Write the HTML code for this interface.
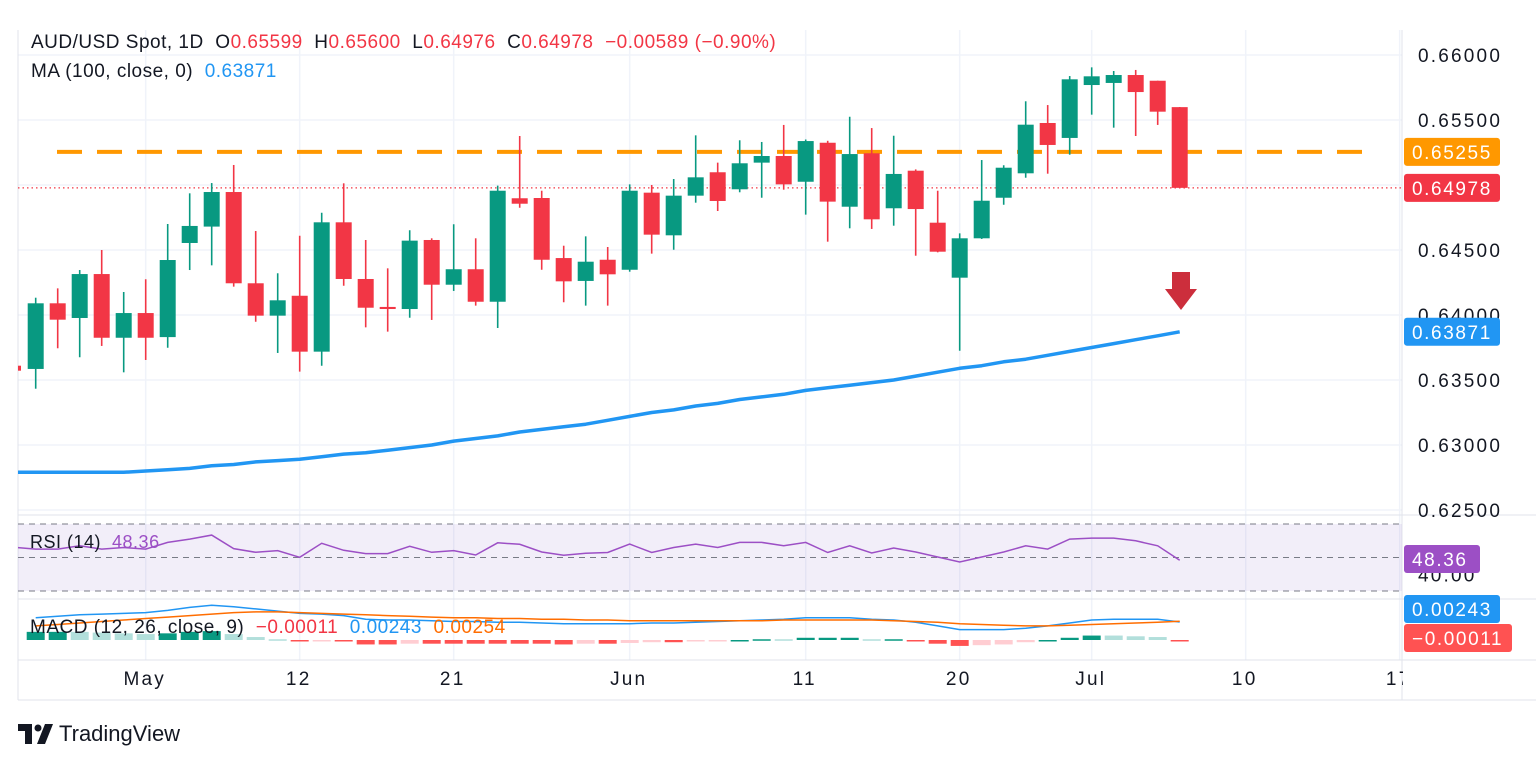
<!DOCTYPE html>
<html><head><meta charset="utf-8"><style>
html,body{margin:0;padding:0;background:#fff;}
body{width:1536px;height:763px;overflow:hidden;font-family:"Liberation Sans",sans-serif;}
svg text{font-family:"Liberation Sans",sans-serif;}
.lg{position:absolute;color:#131722;white-space:pre;letter-spacing:0.5px;}
</style></head><body>
<svg id="chart" width="1536" height="763" xmlns="http://www.w3.org/2000/svg">
<defs><clipPath id="plot"><rect x="18" y="30" width="1384" height="670"/></clipPath></defs>
<g id="grid"></g>
<g id="main" clip-path="url(#plot)"></g>
<g id="axes"></g>
</svg>
<script>
const opens=[.63585,.64090,.63977,.64315,.63825,.64015,.63830,.64554,.64680,.64946,.64244,.63995,.64148,.63718,.64713,.64277,.64062,.64046,.64577,.64233,.64352,.64102,.64898,.64900,.64438,.64262,.64425,.64348,.64941,.64613,.64918,.65098,.64967,.65172,.65223,.65025,.65325,.64833,.65244,.64821,.65110,.64710,.64287,.64590,.64902,.65090,.65477,.65362,.65769,.65785,.65846,.65802,.65599];
const highs=[.64133,.64205,.64346,.64500,.64177,.64275,.64700,.64936,.65015,.65154,.64646,.64321,.64610,.64787,.65013,.64577,.64359,.64652,.64590,.64698,.64590,.64995,.65377,.64956,.64533,.64605,.64523,.65005,.65000,.65046,.65382,.65172,.65344,.65331,.65462,.65350,.65340,.65525,.65438,.65379,.65120,.64956,.64628,.65192,.65152,.65644,.65615,.65838,.65905,.65877,.65885,.65802,.65600];
const lows=[.63433,.63744,.63675,.63762,.63559,.63654,.63748,.64346,.64382,.64218,.63948,.63708,.63564,.63610,.64225,.63905,.63872,.63979,.63962,.64185,.64072,.63900,.64825,.64348,.64098,.64072,.64072,.64333,.64472,.64502,.64864,.64800,.64944,.64902,.64964,.64772,.64564,.64667,.64662,.64687,.64456,.64482,.63725,.64585,.64848,.65056,.65087,.65233,.65541,.65441,.65377,.65462,.64976];
const closes=[.64090,.63964,.64315,.63825,.64015,.63825,.64423,.64685,.64946,.64244,.63995,.64113,.63718,.64713,.64277,.64056,.64046,.64572,.64233,.64352,.64102,.64956,.64856,.64425,.64259,.64410,.64313,.64956,.64618,.64918,.65059,.64877,.65167,.65223,.65005,.65338,.64872,.65238,.64736,.65085,.64815,.64487,.64590,.64879,.65133,.65464,.65308,.65813,.65836,.65846,.65715,.65564,.64978];
const ma100=[.6279,.6279,.6279,.6279,.6279,.6279,.6280,.6281,.6282,.6284,.6285,.6287,.6288,.6289,.6291,.6293,.6294,.6296,.6298,.6300,.6303,.6305,.6307,.6310,.6312,.6314,.6316,.6319,.6322,.6325,.6327,.6330,.6332,.6335,.6337,.6339,.6342,.6344,.6346,.6348,.6350,.6353,.6356,.6359,.6361,.6364,.6366,.6369,.6372,.6375,.6378,.6381,.6384,.63871];
const rsi=[55,55,57,55,56,55,59,61,63.4,55.3,53.1,54.1,50.1,58.5,54.3,52.3,52.3,56.7,53.1,54.1,51.5,58.8,57.9,53.3,51.3,52.5,53,58,53,56,58,56,59,59,57,59,53,57,52.7,55.7,53.3,50.3,47.3,50.3,53.3,57,55,61,61.6,61.6,60,57,48.36];
const macd=[.0030,.0032,.0034,.0035,.0036,.0037,.0040,.0044,.0047,.0045,.0042,.0039,.0036,.0035,.0033,.0028,.0027,.0027,.0026,.0025,.0025,.0024,.0024,.0023,.0022,.0022,.0022,.0022,.0023,.0023,.0024,.0025,.0026,.0027,.0028,.0030,.0030,.0030,.0028,.0027,.0024,.0019,.0014,.0014,.0014,.0016,.0019,.0023,.0027,.0028,.0028,.0028,.00243];
const signal=[.0019,.0021,.0023,.0025,.0027,.0029,.0031,.0033,.0035,.0037,.0038,.0038,.0037,.0036,.0035,.0034,.0033,.0032,.0031,.0030,.0030,.0029,.0029,.0028,.0028,.0027,.0027,.0026,.0026,.0026,.0026,.0026,.0026,.0026,.0027,.0027,.0027,.0027,.0027,.0026,.0025,.0024,.0022,.0021,.0020,.0019,.0019,.0020,.0021,.0022,.0023,.0024,.00254];
const priceTicks=[0.660,0.655,0.650,0.645,0.640,0.635,0.630,0.625];
const timeLabels=["May","12","21","Jun","11","20","Jul","10","17"];
const timeIdx=[5,12,19,27,35,42,48,55,62];
const resistance=0.65255;

const NS="http://www.w3.org/2000/svg";
const X=i=>35.7+22*i;
const Y=p=>55+(0.66-p)*13000;
const RY=v=>557.5-(v-50)*1.675;
const MY=v=>640-v*7400;
function mk(tag,attrs,parent,text){const e=document.createElementNS(NS,tag);for(const k in attrs)e.setAttribute(k,attrs[k]);if(text!==undefined)e.textContent=text;parent.appendChild(e);return e;}
const grid=document.getElementById('grid'),main=document.getElementById('main'),axes=document.getElementById('axes');

timeIdx.forEach(i=>{const l=mk('line',{x1:X(i),x2:X(i),y1:30,y2:660,stroke:'#f0f3fa','stroke-width':1.5},grid);

});
priceTicks.forEach(p=>{const l=mk('line',{x1:18,x2:1402,y1:Y(p),y2:Y(p),stroke:'#f0f3fa','stroke-width':1.5},grid);

});
[[18,515,1536,515],[18,599,1536,599],[18,660,1536,660],[1402,30,1402,700],[18,700,1536,700],[18,30,18,700]].forEach(s=>{const l=mk('line',{x1:s[0],y1:s[1],x2:s[2],y2:s[3],stroke:'#e0e3eb','stroke-width':1},grid);

});

const band=mk('rect',{x:18,y:RY(70),width:1384,height:RY(30)-RY(70),fill:'#7e57c2','fill-opacity':0.1},main);


[70,50,30].forEach(v=>{const l=mk('line',{x1:18,x2:1402,y1:RY(v),y2:RY(v),stroke:'#787b86','stroke-width':1,'stroke-dasharray':'6 5'},main);

});

const rl=mk('line',{x1:57,x2:1372,y1:Y(resistance),y2:Y(resistance),stroke:'#ff9800','stroke-width':4,'stroke-dasharray':'25 15'},main);


const cl=mk('line',{x1:18,x2:1402,y1:Y(closes[closes.length-1]),y2:Y(closes[closes.length-1]),stroke:'#f23645','stroke-width':1.2,'stroke-dasharray':'1.5 3'},main);



const pc=mk('rect',{x:12,y:Y(.6361),width:9,height:5,fill:'#f23645'},main);



opens.forEach((o,i)=>{const c=closes[i],up=c>=o,col=up?'#089981':'#f23645';
const g=mk('g',{},main);


mk('line',{x1:X(i),x2:X(i),y1:Y(highs[i]),y2:Y(lows[i]),stroke:col,'stroke-width':1.6},g);
const t=Y(Math.max(o,c)),b=Y(Math.min(o,c));
mk('rect',{x:X(i)-8,y:t,width:16,height:Math.max(b-t,1.5),fill:col},g);});

let d='';ma100.forEach((v,k)=>{d+=(k?'L':'M')+(X(k-1)).toFixed(1)+','+Y(v).toFixed(1);});
const mal=mk('path',{d:d,fill:'none',stroke:'#2196f3','stroke-width':3.5,'stroke-linejoin':'round'},main);



d='';rsi.forEach((v,i)=>{d+=(i?'L':'M')+X(i).toFixed(1)+','+RY(v).toFixed(1);});
const rl2=mk('path',{d:'M18,'+RY(55.9).toFixed(1)+d.replace('M','L'),fill:'none',stroke:'#9c4fc5','stroke-width':1.5},main);



macd.forEach((m,i)=>{const h=m-signal[i],prev=i?macd[i-1]-signal[i-1]:h;
let col;if(h>=0)col=h>=prev?'#089981':'#b2dfdb';else col=h<=prev?'#ff5252':'#ffcdd2';
const y0=MY(0),y1=MY(h);
const r=mk('rect',{x:X(i)-9,y:Math.min(y0,y1),width:18,height:Math.max(Math.abs(y1-y0),1.5),fill:col},main);

});
d='';macd.forEach((v,i)=>{d+=(i?'L':'M')+X(i).toFixed(1)+','+MY(v).toFixed(1);});
const ml=mk('path',{d:d,fill:'none',stroke:'#2196f3','stroke-width':1.5},main);


d='';signal.forEach((v,i)=>{d+=(i?'L':'M')+X(i).toFixed(1)+','+MY(v).toFixed(1);});
const sl=mk('path',{d:d,fill:'none',stroke:'#ff6d00','stroke-width':1.5},main);



const ar=mk('path',{d:'M1172,272H1190V289H1197L1181,310L1165,289H1172Z',fill:'#cc2e3c'},main);



const AX={'font-size':19,'letter-spacing':'2.2px',fill:'#131722'};
priceTicks.forEach(p=>{const t=mk('text',Object.assign({x:1418,y:Y(p)+7},AX),axes,p.toFixed(5));

});
const r40=mk('text',Object.assign({x:1418,y:RY(40)+7},AX),axes,'40.00');


timeLabels.forEach((s,k)=>{const t=mk('text',Object.assign({x:X(timeIdx[k])-1,y:685,'text-anchor':'middle'},AX),axes,s);

});
const cover=mk('rect',{x:1403,y:661,width:133,height:38,fill:'#fff'},axes);



function badge(name,y,txt,col,w){const g=mk('g',{},axes);


mk('rect',{x:1404,y:y-14,width:w,height:28,rx:3,fill:col},g);
mk('text',{x:1412,y:y+7,'font-size':19,'letter-spacing':'1.6px',fill:'#fff'},g,txt);}
badge('resistance-badge',Y(resistance),'0.65255','#ff9800',96);
badge('last-price-badge',Y(closes[closes.length-1]),'0.64978','#f23645',96);
badge('ma-badge',Y(ma100[ma100.length-1]),'0.63871','#2196f3',96);
badge('rsi-badge',559,'48.36','#9c4fc5',76);
badge('macd-badge',609,'0.00243','#2196f3',96);
badge('hist-badge',638,'\u22120.00011','#ff5252',108);
</script>
<div class="lg" style="left:31px;top:32px;font-size:19px;">AUD/USD Spot, 1D  O<span style="color:#f23645">0.65599</span>  H<span style="color:#f23645">0.65600</span>  L<span style="color:#f23645">0.64976</span>  C<span style="color:#f23645">0.64978</span>  <span style="color:#f23645">−0.00589 (−0.90%)</span></div>
<div class="lg" style="left:31px;top:61px;font-size:19px;">MA (100, close, 0)  <span style="color:#2196f3">0.63871</span></div>
<div class="lg" style="left:30px;top:532px;font-size:18px;">RSI (14)  <span style="color:#9c4fc5">48.36</span></div>
<div class="lg" style="left:30px;top:617px;font-size:19px;">MACD (12, 26, close, 9)  <span style="color:#f23645">−0.00011</span>  <span style="color:#2196f3">0.00243</span>  <span style="color:#ff6d00">0.00254</span></div>
<div style="position:absolute;left:18px;top:720px;height:28px;display:flex;align-items:center;">
<svg width="36" height="20" viewBox="0 0 36 20"><path d="M0 0H14V20H7V7H0Z" fill="#131722"/><circle cx="20" cy="4" r="3.5" fill="#131722"/><path d="M27 0H35L27 20H19Z" fill="#131722"/></svg>
<span style="font-size:22px;color:#131722;margin-left:5px;">TradingView</span></div>
</body></html>
